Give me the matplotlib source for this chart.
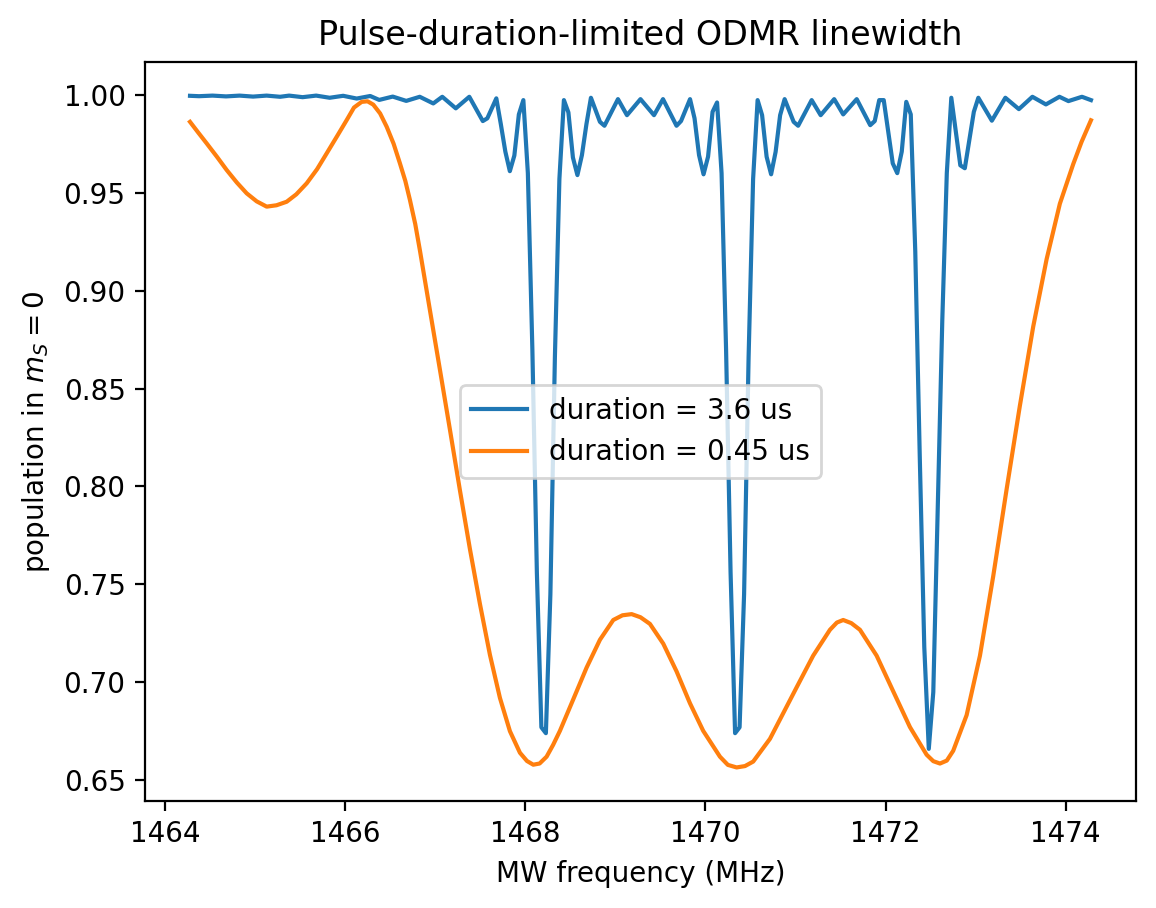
import matplotlib
matplotlib.use("Agg")
import matplotlib.pyplot as plt

# --- values ---
# pulse duration 3.6 us (corner points of the sampled curve)
freq_long = [1464.28, 1464.38, 1464.53, 1464.68, 1464.83, 1464.98, 1465.13, 1465.28,
             1465.38, 1465.53, 1465.68, 1465.83, 1465.98, 1466.13, 1466.28, 1466.38,
             1466.53, 1466.68, 1466.83, 1466.98, 1467.08, 1467.23, 1467.38, 1467.53,
             1467.58, 1467.68, 1467.73, 1467.78, 1467.83, 1467.88, 1467.93, 1467.98,
             1468.03, 1468.08, 1468.13, 1468.18, 1468.23, 1468.28, 1468.33, 1468.38,
             1468.43, 1468.48, 1468.53, 1468.58, 1468.63, 1468.68, 1468.73, 1468.83,
             1468.88, 1469.03, 1469.13, 1469.28, 1469.43, 1469.53, 1469.68, 1469.73,
             1469.83, 1469.88, 1469.93, 1469.98, 1470.03, 1470.08, 1470.13, 1470.18,
             1470.23, 1470.28, 1470.33, 1470.38, 1470.43, 1470.48, 1470.53, 1470.58,
             1470.63, 1470.68, 1470.73, 1470.78, 1470.83, 1470.88, 1470.98, 1471.03,
             1471.18, 1471.28, 1471.43, 1471.53, 1471.68, 1471.83, 1471.88, 1471.93,
             1471.98, 1472.08, 1472.13, 1472.18, 1472.23, 1472.28, 1472.33, 1472.38,
             1472.43, 1472.48, 1472.53, 1472.58, 1472.63, 1472.68, 1472.73, 1472.83,
             1472.88, 1472.98, 1473.03, 1473.18, 1473.33, 1473.48, 1473.63, 1473.78,
             1473.93, 1474.03, 1474.18, 1474.28]
pop_long = [0.9995, 0.9993, 0.9996, 0.9992, 0.9996, 0.9991, 0.9996, 0.9990,
            0.9996, 0.9988, 0.9996, 0.9985, 0.9995, 0.9981, 0.9994, 0.9974,
            0.9991, 0.9969, 0.9990, 0.9956, 0.9990, 0.9931, 0.9990, 0.9866,
            0.9880, 0.9982, 0.9850, 0.9710, 0.9610, 0.9690, 0.9900, 0.9973,
            0.9600, 0.8700, 0.7560, 0.6770, 0.6740, 0.7450, 0.8660, 0.9570,
            0.9973, 0.9910, 0.9680, 0.9590, 0.9692, 0.9850, 0.9985, 0.9862,
            0.9842, 0.9978, 0.9896, 0.9978, 0.9896, 0.9978, 0.9842, 0.9866,
            0.9978, 0.9880, 0.9692, 0.9594, 0.9684, 0.9913, 0.9961, 0.9600,
            0.8700, 0.7560, 0.6740, 0.6770, 0.7450, 0.8660, 0.9570, 0.9973,
            0.9896, 0.9684, 0.9594, 0.9709, 0.9896, 0.9978, 0.9862, 0.9842,
            0.9973, 0.9896, 0.9978, 0.9900, 0.9978, 0.9845, 0.9866, 0.9973,
            0.9973, 0.9650, 0.9600, 0.9710, 0.9964, 0.9900, 0.9200, 0.8150,
            0.7180, 0.6660, 0.6950, 0.7900, 0.8850, 0.9600, 0.9985, 0.9640,
            0.9625, 0.9913, 0.9985, 0.9868, 0.9985, 0.9927, 0.9990, 0.9951,
            0.9990, 0.9968, 0.9990, 0.9973]

# pulse duration 0.45 us
freq_short = [1464.28, 1464.37, 1464.465, 1464.58, 1464.687, 1464.80, 1464.909, 1465.02,
              1465.131, 1465.24, 1465.353, 1465.46, 1465.575, 1465.69, 1465.797, 1465.91,
              1466.019, 1466.10, 1466.185, 1466.25, 1466.314, 1466.39, 1466.463, 1466.54,
              1466.610, 1466.67, 1466.721, 1466.78, 1466.832, 1466.943, 1467.054, 1467.165,
              1467.276, 1467.387, 1467.498, 1467.609, 1467.720, 1467.831, 1467.942, 1468.02,
              1468.090, 1468.16, 1468.238, 1468.31, 1468.386, 1468.534, 1468.682, 1468.830,
              1468.978, 1469.08, 1469.182, 1469.28, 1469.385, 1469.533, 1469.681, 1469.829,
              1469.976, 1470.162, 1470.25, 1470.347, 1470.44, 1470.531, 1470.717, 1471.013,
              1471.197, 1471.383, 1471.46, 1471.530, 1471.62, 1471.716, 1471.901, 1472.085,
              1472.271, 1472.456, 1472.53, 1472.604, 1472.68, 1472.751, 1472.900, 1473.048,
              1473.195, 1473.344, 1473.491, 1473.639, 1473.788, 1473.935, 1474.083, 1474.176,
              1474.28]
pop_short = [0.9862, 0.9808, 0.9752, 0.9683, 0.9616, 0.9552, 0.9497, 0.9456,
             0.9429, 0.9436, 0.9454, 0.9492, 0.9548, 0.9620, 0.9701, 0.9787,
             0.9871, 0.9935, 0.9964, 0.9967, 0.9950, 0.9905, 0.9837, 0.9750,
             0.9650, 0.9560, 0.9463, 0.9340, 0.9205, 0.8900, 0.8596, 0.8290,
             0.7980, 0.7680, 0.7400, 0.7140, 0.6920, 0.6750, 0.6640, 0.6598,
             0.6579, 0.6585, 0.6620, 0.6680, 0.6752, 0.6913, 0.7075, 0.7217,
             0.7318, 0.7342, 0.7348, 0.7332, 0.7298, 0.7197, 0.7055, 0.6893,
             0.6752, 0.6620, 0.6578, 0.6565, 0.6572, 0.6595, 0.6711, 0.6974,
             0.7136, 0.7268, 0.7305, 0.7318, 0.7302, 0.7268, 0.7136, 0.6954,
             0.6771, 0.6630, 0.6597, 0.6585, 0.6600, 0.6650, 0.6832, 0.7136,
             0.7541, 0.7986, 0.8412, 0.8816, 0.9161, 0.9444, 0.9646, 0.9760,
             0.9870]

labels = ["duration = 3.6 us", "duration = 0.45 us"]

fig = plt.figure(figsize=(5.78, 4.54), dpi=200)
ax = fig.add_axes([0.1254, 0.1178, 0.8573, 0.8139])

ax.plot(freq_long, pop_long, label=labels[0])
ax.plot(freq_short, pop_short, label=labels[1])

ax.set_xlabel("MW frequency (MHz)")
ax.set_ylabel("population in $m_S = 0$")
ax.set_title("Pulse-duration-limited ODMR linewidth")
ax.legend(loc="center")

fig.savefig("out.png", dpi=200)
